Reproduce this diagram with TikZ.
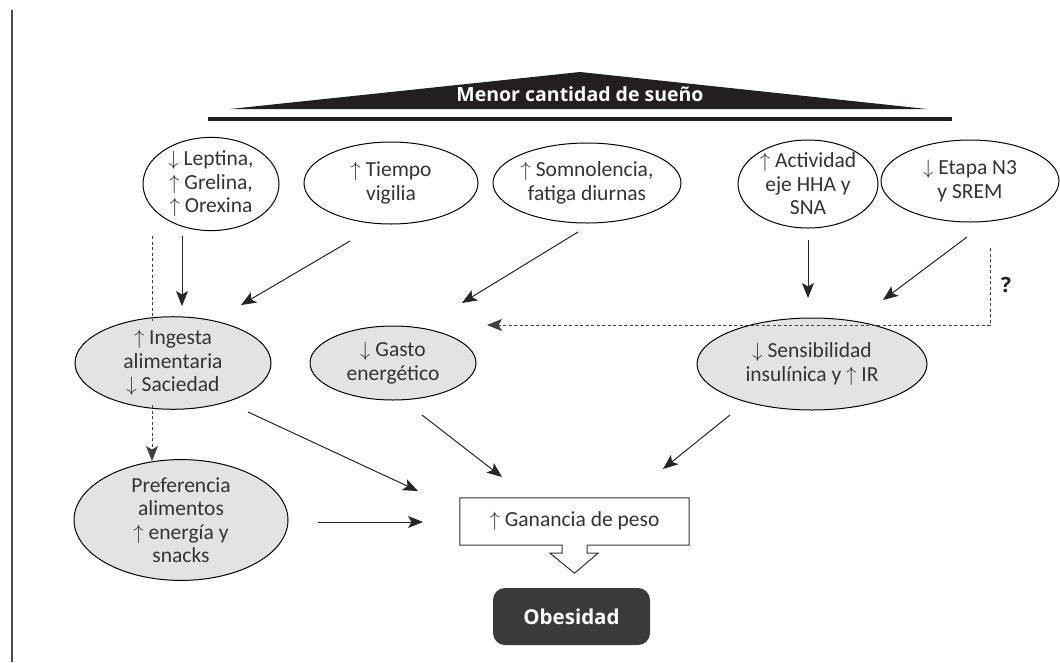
\documentclass[tikz,border=0pt]{standalone}
\usepackage{fontspec}
\setmainfont{Carlito}
\newfontfamily\osfont{Open Sans}
\usetikzlibrary{shapes.geometric,arrows.meta,calc}
\definecolor{txt}{HTML}{333333}
\definecolor{grayfill}{HTML}{E3E3E3}
\definecolor{darkbox}{HTML}{3A3A3A}
\definecolor{blk}{HTML}{231F20}
\begin{document}
\begin{tikzpicture}[x=1pt,y=-1pt,
  every node/.style={inner sep=0pt,text=txt},
  body/.style={font=\fontsize{21.5}{23.5}\selectfont, align=center},
  oval/.style={body, ellipse, draw=black, line width=1pt, fill=white},
  goval/.style={oval, fill=grayfill},
  arr/.style={line width=1pt, draw=black!85, -{Stealth[length=15pt,width=12pt,inset=3.5pt]}},
  darr/.style={line width=0.8pt, draw=black!75, dash pattern=on 3pt off 2.5pt, -{Stealth[length=15pt,width=12pt,inset=3.5pt]}},
  dline/.style={line width=0.8pt, draw=black!75, dash pattern=on 3pt off 2.5pt},
]
\useasboundingbox (0,0) rectangle (1060,662);
\fill[white] (0,0) rectangle (1060,662);
% left rule
\draw[line width=1.4pt, draw=black!70] (12,10) -- (12,662);
% title triangle and bar
\fill[blk] (230,109) -- (580,72) -- (927,109) -- cycle;
\fill[blk] (208,116.5) rectangle (952,120.5);
\node[anchor=base, text=white, font=\osfont\bfseries\fontsize{19.5}{22}\selectfont] (title) at (580,101) {Menor cantidad de sueño};

% top row
\node[oval, minimum width=136pt, minimum height=84pt] (lep) at (211,184) {$\downarrow$ Leptina,\\$\uparrow$ Grelina,\\$\uparrow$ Orexina};
\node[oval, minimum width=174pt, minimum height=82pt] (tie) at (391,183) {$\uparrow$ Tiempo\\vigilia};
\node[oval, minimum width=188pt, minimum height=80pt] (som) at (587,183) {$\uparrow$ Somnolencia,\\fatiga diurnas};
\node[oval, minimum width=140pt, minimum height=88pt] (act) at (808,184) {$\uparrow$ Actividad\\eje HHA y\\SNA};
\node[oval, minimum width=178pt, minimum height=82pt] (eta) at (970,181) {$\downarrow$ Etapa N3\\y SREM};

% middle row
\node[goval, minimum width=196pt, minimum height=86pt] (ing) at (173,363) {$\uparrow$ Ingesta\\alimentaria\\$\downarrow$ Saciedad};
\node[goval, minimum width=166pt, minimum height=74pt] (gas) at (393,363) {$\downarrow$ Gasto\\energético};
\node[goval, minimum width=230pt, minimum height=92pt] (sen) at (812,364) {$\downarrow$ Sensibilidad\\insulínica y $\uparrow$ IR};

% bottom
\node[goval, minimum width=214pt, minimum height=96pt] (pre) at (181,520) {Preferencia\\alimentos\\$\uparrow$ energía y\\snacks};
\node[body, minimum width=229pt, minimum height=47pt] (gan) at (574.5,521.5) {$\uparrow$ Ganancia de peso};
\draw[line width=1pt, draw=black!80]
  (gan.north west) -- (gan.north east) -- (gan.south east)
  -- ($(gan.south)+(12.5,0)$) -- ($(gan.south)+(12.5,8)$) -- ($(gan.south)+(23.5,8)$)
  -- ($(gan.south)+(0,28)$) -- ($(gan.south)+(-24.5,8)$) -- ($(gan.south)+(-12.5,8)$)
  -- ($(gan.south)+(-12.5,0)$) -- (gan.south west) -- cycle;
\node[rectangle, rounded corners=12pt, fill=darkbox, text=white, minimum width=157pt, minimum height=57pt, font=\osfont\bfseries\fontsize{20.5}{22}\selectfont] (obe) at (571.5,616.5) {Obesidad};

% question mark
\node[font=\osfont\bfseries\fontsize{21}{22}\selectfont, text=blk] (q) at (1006,285) {?};

% connector end points
\coordinate (lepA) at (182,236);   \coordinate (ingA) at (182,306);
\coordinate (lepD) at (152,236);   \coordinate (ingT) at (152,321);
\coordinate (ingB) at (152,405);   \coordinate (preT) at (152,461);
\coordinate (tieA) at (350,241);   \coordinate (ingR) at (241,305);
\coordinate (somA) at (578,232);   \coordinate (gasT) at (462,303);
\coordinate (actA) at (808,240);   \coordinate (senT) at (808,298);
\coordinate (etaA) at (967,237);   \coordinate (senR) at (883,300);
\coordinate (etaD) at (990,248);   \coordinate (corner) at (990,325);
\coordinate (gasR) at (487,325);
\coordinate (ingC) at (248,412);   \coordinate (ganL) at (418,491);
\coordinate (gasB) at (422,415);   \coordinate (ganT) at (502,477);
\coordinate (senB) at (730,415);   \coordinate (ganR) at (663,469);
\coordinate (preR) at (318,522);   \coordinate (ganW) at (423,522);

\draw[arr] (lepA) -- (ingA);
\draw[dline] (lepD) -- (ingT);
\draw[darr] (ingB) -- (preT);
\draw[arr] (tieA) -- (ingR);
\draw[arr] (somA) -- (gasT);
\draw[arr] (actA) -- (senT);
\draw[arr] (etaA) -- (senR);
\draw[darr] (etaD) -- (corner) -- (gasR);
\draw[arr] (ingC) -- (ganL);
\draw[arr] (gasB) -- (ganT);
\draw[arr] (senB) -- (ganR);
\draw[arr] (preR) -- (ganW);
\end{tikzpicture}
\end{document}
